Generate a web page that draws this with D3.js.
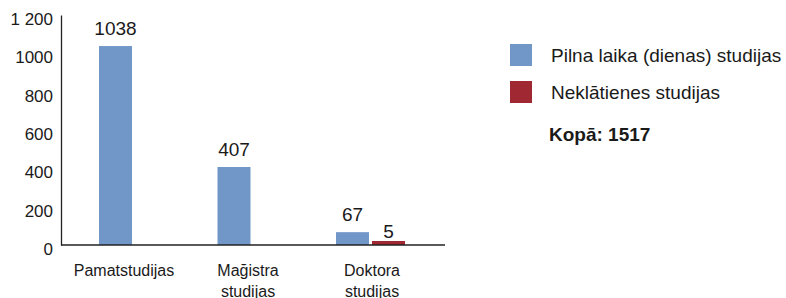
<!DOCTYPE html>
<html>
<head>
<meta charset="utf-8">
<script src="https://cdn.jsdelivr.net/npm/d3@7"></script>
<style>
  body { margin: 0; background: #fff; }
  text { font-family: "Liberation Sans", Arial, sans-serif; fill: #1a1a1a; }
</style>
</head>
<body>
<div id="chart"></div>
<script>
const categories= ['Pamatstudijas', 'Mağistra studijas', 'Doktora studijas'];
const categoryLines= [['Pamatstudijas'], ['Mağistra', 'studijas'], ['Doktora', 'studijas']];
const seriesNames= ['Pilna laika (dienas) studijas', 'Neklātienes studijas'];
const fullTime= [1038, 407, 67];
const partTime= [null, null, 5];
const tickValues= [0, 200, 400, 600, 800, 1000, 1200];
const tickLabels= ['0', '200', '400', '600', '800', '1000', '1 200'];
const totalLabel= 'Kopā: 1517';
const colors= ['#7097c8', '#a02833'];

const W= 786, H= 298;
const svg= d3.select('#chart').append('svg').attr('width', W).attr('height', H);

const y= d3.scaleLinear().domain([0, 1200]).range([245, 15]);
const x0= d3.scaleBand().domain(categories).range([99, 99+3*118.5]).padding(0);
const x1= d3.scaleBand().domain([0, 1]).range([0, 69]).paddingInner(0.0833);
const xLab= d3.scalePoint().domain(categories).range([124, 372]);

// y axis
const yAx= svg.append('g').attr('transform', 'translate(61,0)')
  .call(d3.axisLeft(y).tickValues(tickValues).tickSize(0).tickPadding(8)
    .tickFormat((d, i) => tickLabels[i]));
yAx.select('.domain').attr('stroke', '#222').attr('stroke-width', 1.3);
yAx.selectAll('text').attr('font-size', 17).attr('font-family', '"Liberation Sans", Arial, sans-serif')
  .attr('fill', '#1a1a1a').attr('dy', '0.56em');

// bars
const rows= categories.map((c, i) => [fullTime[i], partTime[i]]);
const g= svg.append('g');
categories.forEach((c, i) => {
  rows[i].forEach((v, s) => {
    if (v == null) return;
    const top= Math.min(y(v), 241);
    g.append('rect')
      .attr('x', x0(c)+x1(s)).attr('y', top)
      .attr('width', x1.bandwidth()).attr('height', 245-top)
      .attr('fill', colors[s]);
    g.append('text')
      .attr('x', x0(c)+x1(s)+x1.bandwidth()/2)
      .attr('y', top-(v < 20 ? 3 : 11))
      .attr('text-anchor', 'middle').attr('font-size', 19)
      .text(v);
  });
});

// x baseline
svg.append('line').attr('x1', 61).attr('x2', 445).attr('y1', 245).attr('y2', 245)
  .attr('stroke', '#222').attr('stroke-width', 1.3);

// category labels
categories.forEach((c, i) => {
  const t= svg.append('text').attr('x', xLab(c)).attr('y', 276)
    .attr('text-anchor', 'middle').attr('font-size', 16);
  categoryLines[i].forEach((ln, k) => {
    t.append('tspan').attr('x', xLab(c)).attr('dy', k ? 20.5 : 0).text(ln);
  });
});

// legend
const lg= svg.append('g').attr('transform', 'translate(510,44)');
seriesNames.forEach((n, i) => {
  lg.append('rect').attr('x', 0).attr('y', i*37).attr('width', 22).attr('height', 22).attr('fill', colors[i]);
  lg.append('text').attr('x', 41).attr('y', i*37+18).attr('font-size', 19).text(n);
});
svg.append('text').attr('x', 549).attr('y', 141).attr('font-size', 19).attr('font-weight', 'bold').text(totalLabel);
</script>
</body>
</html>
